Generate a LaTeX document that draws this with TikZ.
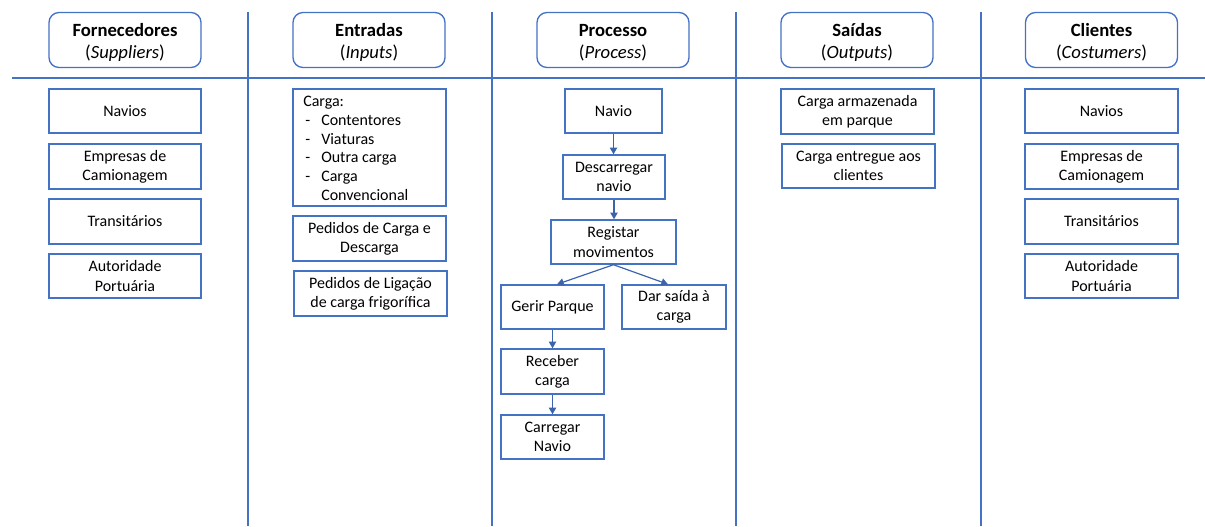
\documentclass[tikz,border=0pt]{standalone}
\usepackage{fontspec}
\setmainfont{Carlito}
\usetikzlibrary{arrows.meta,calc}
\definecolor{edgeblue}{HTML}{4472C4}
\definecolor{arrowblue}{HTML}{3B64AD}

\begin{document}
\begin{tikzpicture}[x=0.75pt,y=-0.75pt,
  head/.style={draw=edgeblue, line width=1pt, rounded corners=7.5pt, fill=white,
    inner sep=0pt, minimum width=152*0.75pt, minimum height=55*0.75pt},
  headtext/.style={align=center, inner sep=0pt, font=\fontsize{14}{16.5}\selectfont},
  box/.style={draw=edgeblue, line width=1.1pt, fill=white, align=center,
    inner sep=0pt, minimum height=44*0.75pt, font=\fontsize{12}{14.4}\selectfont},
  listtext/.style={inner sep=0pt, anchor=north west, font=\fontsize{12}{14}\selectfont},
  bw/.style={minimum width=#1*0.75pt},
  bh/.style={minimum height=#1*0.75pt},
  divider/.style={edgeblue, line width=1.1pt},
  flow/.style={arrowblue, line width=0.9pt, -{Triangle[length=5pt,width=5.5pt]}}
]
\useasboundingbox (0,0) rectangle (1205,526);

% column dividers and header rule
\draw[divider] (12,78) -- (1205,78);
\foreach \xx in {248,492,736,981} \draw[divider] (\xx,12) -- (\xx,526);

% column headers: rounded frame with its two-line title
\foreach \nm/\cx/\bold/\ital in {sup/125/Fornecedores/Suppliers,
                                 in/369/Entradas/Inputs,
                                 pro/613/Processo/Process,
                                 out/857/Saídas/Outputs,
                                 cli/1101.5/Clientes/Costumers}{
  \node[head] (h\nm) at (\cx,40) {};
  \node[headtext] (h\nm-title) at (\cx,42.5) {\textbf{\bold}\\(\textit{\ital})};
}

% suppliers
\node[box, bw=152] (s1) at (125,111)   {Navios};
\node[box, bw=152, bh=45] (s2) at (125,166.5) {Empresas de\\Camionagem};
\node[box, bw=152, bh=45] (s3) at (125,221.5) {Transitários};
\node[box, bw=152] (s4) at (125,276)   {Autoridade\\Portuária};

% inputs
\node[box, bw=153, bh=117] (i1) at (369.5,147.5) {};
\node[listtext] (i1-list) at (303,93.4)
  {\begin{tabular}{@{}p{13.5pt}@{}l@{}}
   \multicolumn{2}{@{}l@{}}{Carga:}\\
   \hspace{1.5pt}- & Contentores\\
   \hspace{1.5pt}- & Viaturas\\
   \hspace{1.5pt}- & Outra carga\\
   \hspace{1.5pt}- & Carga\\
                   & Convencional
   \end{tabular}};
\node[box, bw=153, bh=45] (i2) at (369.5,238.5) {Pedidos de Carga e\\Descarga};
\node[box, bw=153, bh=45] (i3) at (370.5,293.5) {Pedidos de Ligação\\de carga frigorífica};

% process
\node[box, bw=97]  (p1) at (613.5,111) {Navio};
\node[box, bw=102] (p2) at (614,177)   {Descarregar\\navio};
\node[box, bw=125] (p3) at (613.5,242) {Registar\\movimentos};
\node[box, bw=103] (p4) at (552.5,307) {Gerir Parque};
\node[box, bw=104] (p5) at (674,307)   {Dar saída à\\carga};
\node[box, bw=103, bh=45] (p6) at (552.5,371.5) {Receber\\carga};
\node[box, bw=103] (p7) at (552.5,437) {Carregar\\Navio};

\draw[flow] (p1.south) -- (p1.south |- p2.north);
\draw[flow] (p2.south) -- (p2.south |- p3.north);
\draw[flow] (p3.south) -- ([xshift=3.4pt]p4.north);
\draw[flow] (p3.south) -- ([xshift=-4.5pt]p5.north);
\draw[flow] (p4.south) -- (p6.north);
\draw[flow] (p6.south) -- (p7.north);

% outputs
\node[box, bw=153, bh=45] (o1) at (857.5,111.5) {Carga armazenada\\em parque};
\node[box, bw=153]        (o2) at (858.5,166)   {Carga entregue aos\\clientes};

% customers
\node[box, bw=153] (c1) at (1101.5,111)   {Navios};
\node[box, bw=153, bh=45] (c2) at (1101.5,166.5) {Empresas de\\Camionagem};
\node[box, bw=153, bh=45] (c3) at (1101.5,221.5) {Transitários};
\node[box, bw=153] (c4) at (1101.5,276)   {Autoridade\\Portuária};
\end{tikzpicture}
\end{document}
